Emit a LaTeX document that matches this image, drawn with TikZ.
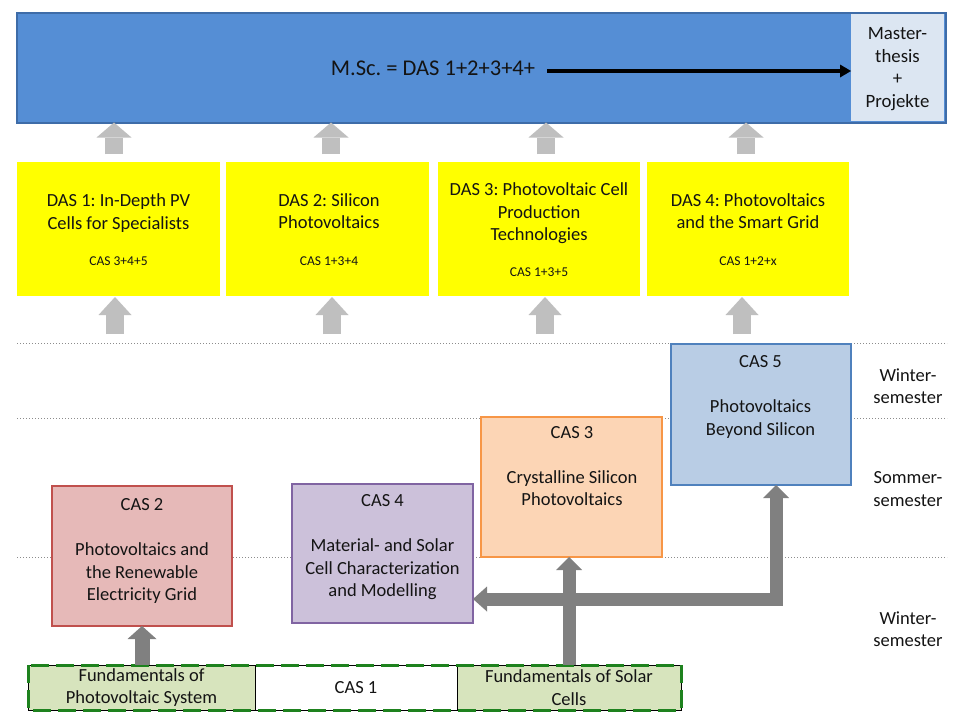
\documentclass[tikz,border=0pt]{standalone}
\usepackage{fontspec}
\setmainfont{Carlito}
\usetikzlibrary{arrows.meta,calc}
\frenchspacing
\definecolor{barblue}{RGB}{85,142,213}
\definecolor{barborder}{RGB}{62,108,168}
\definecolor{masterfill}{RGB}{220,230,242}
\definecolor{dasyellow}{RGB}{255,255,0}
\definecolor{lightarrow}{RGB}{191,191,191}
\definecolor{darkarrow}{RGB}{128,128,128}
\definecolor{redfill}{RGB}{230,185,184}
\definecolor{redline}{RGB}{192,80,77}
\definecolor{violetfill}{RGB}{204,193,218}
\definecolor{violetline}{RGB}{128,100,162}
\definecolor{orangefill}{RGB}{252,213,181}
\definecolor{orangeline}{RGB}{247,150,70}
\definecolor{bluefill}{RGB}{185,205,229}
\definecolor{blueline}{RGB}{79,129,189}
\definecolor{greenfill}{RGB}{215,228,189}
\definecolor{greendash}{RGB}{30,130,30}
\definecolor{dotgray}{RGB}{140,140,140}
\definecolor{txt}{RGB}{20,20,20}
\newcommand\bigtxt{\fontsize{18.5}{22.6}\selectfont}
\newcommand\smalltxt{\fontsize{13.5}{16}\selectfont}
\newcommand\msctxt{\fontsize{22.5}{27}\selectfont}
\begin{document}
\begin{tikzpicture}[x=1pt,y=-1pt,
  rect/.style={anchor=north west, inner sep=0pt, outer sep=0pt},
  dasbox/.style={rect, fill=dasyellow, minimum width=203pt, minimum height=134pt},
  casbox/.style={rect, line width=2.5pt, minimum width=180pt, minimum height=140pt},
  lbl/.style={align=center, inner sep=0pt, font=\bigtxt, text=txt},
  small/.style={inner sep=0pt, font=\smalltxt, text=txt},
  lightarr/.style={draw=lightarrow, line width=18pt, -{Triangle[length=15pt,width=35pt,line width=0pt]}},
  lightarrb/.style={draw=lightarrow, line width=18pt, -{Triangle[length=18pt,width=33pt,line width=0pt]}},
  darkarr/.style={draw=darkarrow, line width=13pt, line join=miter, -{Triangle[length=13pt,width=26pt,line width=0pt]}},
  bottombox/.style={rect, draw=black, line width=0.6pt, minimum height=45pt, align=center, font=\bigtxt, text=txt},
  semester/.style={align=center, inner sep=0pt, font=\bigtxt, text=txt},
  dotline/.style={draw=dotgray, line width=0.8pt, dash pattern=on 1pt off 2pt}
]
\useasboundingbox (0,0) rectangle (960,720);
\fill[white] (0,0) rectangle (960,720);

% dotted semester lines
\coordinate (d1l) at (17,343); \coordinate (d1r) at (947,343);
\coordinate (d2l) at (17,418); \coordinate (d2r) at (947,418);
\coordinate (d3l) at (17,557); \coordinate (d3r) at (947,557);
\draw[dotline] (d1l) -- (d1r);
\draw[dotline] (d2l) -- (d2r);
\draw[dotline] (d3l) -- (d3r);

% top bar
\node[rect, fill=barblue, draw=barborder, line width=2pt, minimum width=929pt, minimum height=110pt] (bar) at (17,12.5) {};
\node[rect, fill=masterfill, minimum width=93pt, minimum height=107pt] (master) at (851,14) {};
\node[align=center, inner sep=0pt, text=txt, font=\fontsize{18.8}{22.8}\selectfont] (mastertxt) at (897.5,69) {Master-\\thesis\\+\\Projekte};
\node[inner sep=0pt, font=\msctxt, text=txt] (msc) at (433,68) {M.Sc. = DAS 1+2+3+4+};
\coordinate (mscarr) at (547,71);
\draw[line width=3.5pt, -{Triangle[length=11pt,width=13pt,line width=0pt]}] (mscarr) -- (mscarr -| master.west);

% DAS boxes
\node[dasbox] (das1) at (17,162) {};
\node[dasbox] (das2) at (226,162) {};
\node[dasbox, minimum width=202pt] (das3) at (438,162) {};
\node[dasbox, minimum width=202pt] (das4) at (647,162) {};
\node[lbl] (das1t) at (118.5,213) {DAS 1: In-Depth PV\\Cells for Specialists};
\node[small] (das1c) at (118.5,261) {CAS 3+4+5};
\node[lbl] (das2t) at (329,211) {DAS 2: Silicon\\Photovoltaics};
\node[small] (das2c) at (329,261) {CAS 1+3+4};
\node[lbl] (das3t) at (539,213.5) {DAS 3: Photovoltaic Cell\\Production\\Technologies};
\node[small] (das3c) at (539,272) {CAS 1+3+5};
\node[lbl] (das4t) at (748,211) {DAS 4: Photovoltaics\\and the Smart Grid};
\node[small] (das4c) at (748,261) {CAS 1+2+x};

% light arrows DAS -> bar
\foreach \i/\x in {1/114,2/331,3/546,4/746}{
  \coordinate (ta\i) at (\x,154);
  \draw[lightarr] (ta\i) -- (ta\i |- bar.south);
}
% light arrows below DAS
\foreach \i/\x in {1/115,2/332,3/545,4/742}{
  \coordinate (ba\i) at (\x,334);
  \draw[lightarrb] (ba\i) -- ++(0,-37);
}

% CAS boxes
\node[casbox, fill=redfill, draw=redline] (cas2) at (52,486) {};
\node[lbl] (cas2t) at (142,551) {CAS 2\\[22.6pt]Photovoltaics and\\the Renewable\\Electricity Grid};
\node[casbox, fill=violetfill, draw=violetline, minimum width=181pt, minimum height=139pt] (cas4) at (292,484) {};
\node[lbl] (cas4t) at (382.5,547) {CAS 4\\[22.6pt]Material- and Solar\\Cell Characterization\\and Modelling};
\node[casbox, fill=orangefill, draw=orangeline, minimum width=181pt] (cas3) at (481,417) {};
\node[lbl] (cas3t) at (572,466) {CAS 3\\[22.6pt]Crystalline Silicon\\Photovoltaics};
\node[casbox, fill=bluefill, draw=blueline, minimum height=141pt] (cas5) at (671,344) {};
\node[lbl] (cas5t) at (760.5,397) {CAS 5\\[22.6pt]Photovoltaics\\Beyond Silicon};

% semester labels
\node[semester] (sem1) at (908,386) {Winter-\\semester};
\node[semester] (sem2) at (908,489) {Sommer-\\semester};
\node[semester] (sem3) at (908,629) {Winter-\\semester};

% bottom CAS 1 row
\node[bottombox, fill=greenfill, minimum width=227pt] (fpv) at (28,665) {Fundamentals of\\Photovoltaic System};
\node[bottombox, fill=white, minimum width=202pt] (cas1) at (255,665) {CAS 1};
\node[bottombox, fill=greenfill, minimum width=224pt] (fsc) at (457,665) {Fundamentals of Solar\\Cells};
\draw[greendash, line width=3pt, dash pattern=on 18pt off 7pt] (fpv.north west) rectangle (fsc.south east);

% dark arrows
\draw[darkarr, line width=15pt, -{Triangle[length=13pt,width=29pt,line width=0pt]}] (cas2.south |- fpv.north) -- (cas2.south);
\draw[darkarr] (fsc.north) -- (fsc.north |- cas3.south);
\coordinate (elbow) at (776,599);
\draw[darkarr, {Triangle[length=14pt,width=25pt,line width=0pt]}-{Triangle[length=13pt,width=26pt,line width=0pt]}] (elbow -| cas4.east) -- (elbow) -- (elbow |- cas5.south);
\end{tikzpicture}
\end{document}
